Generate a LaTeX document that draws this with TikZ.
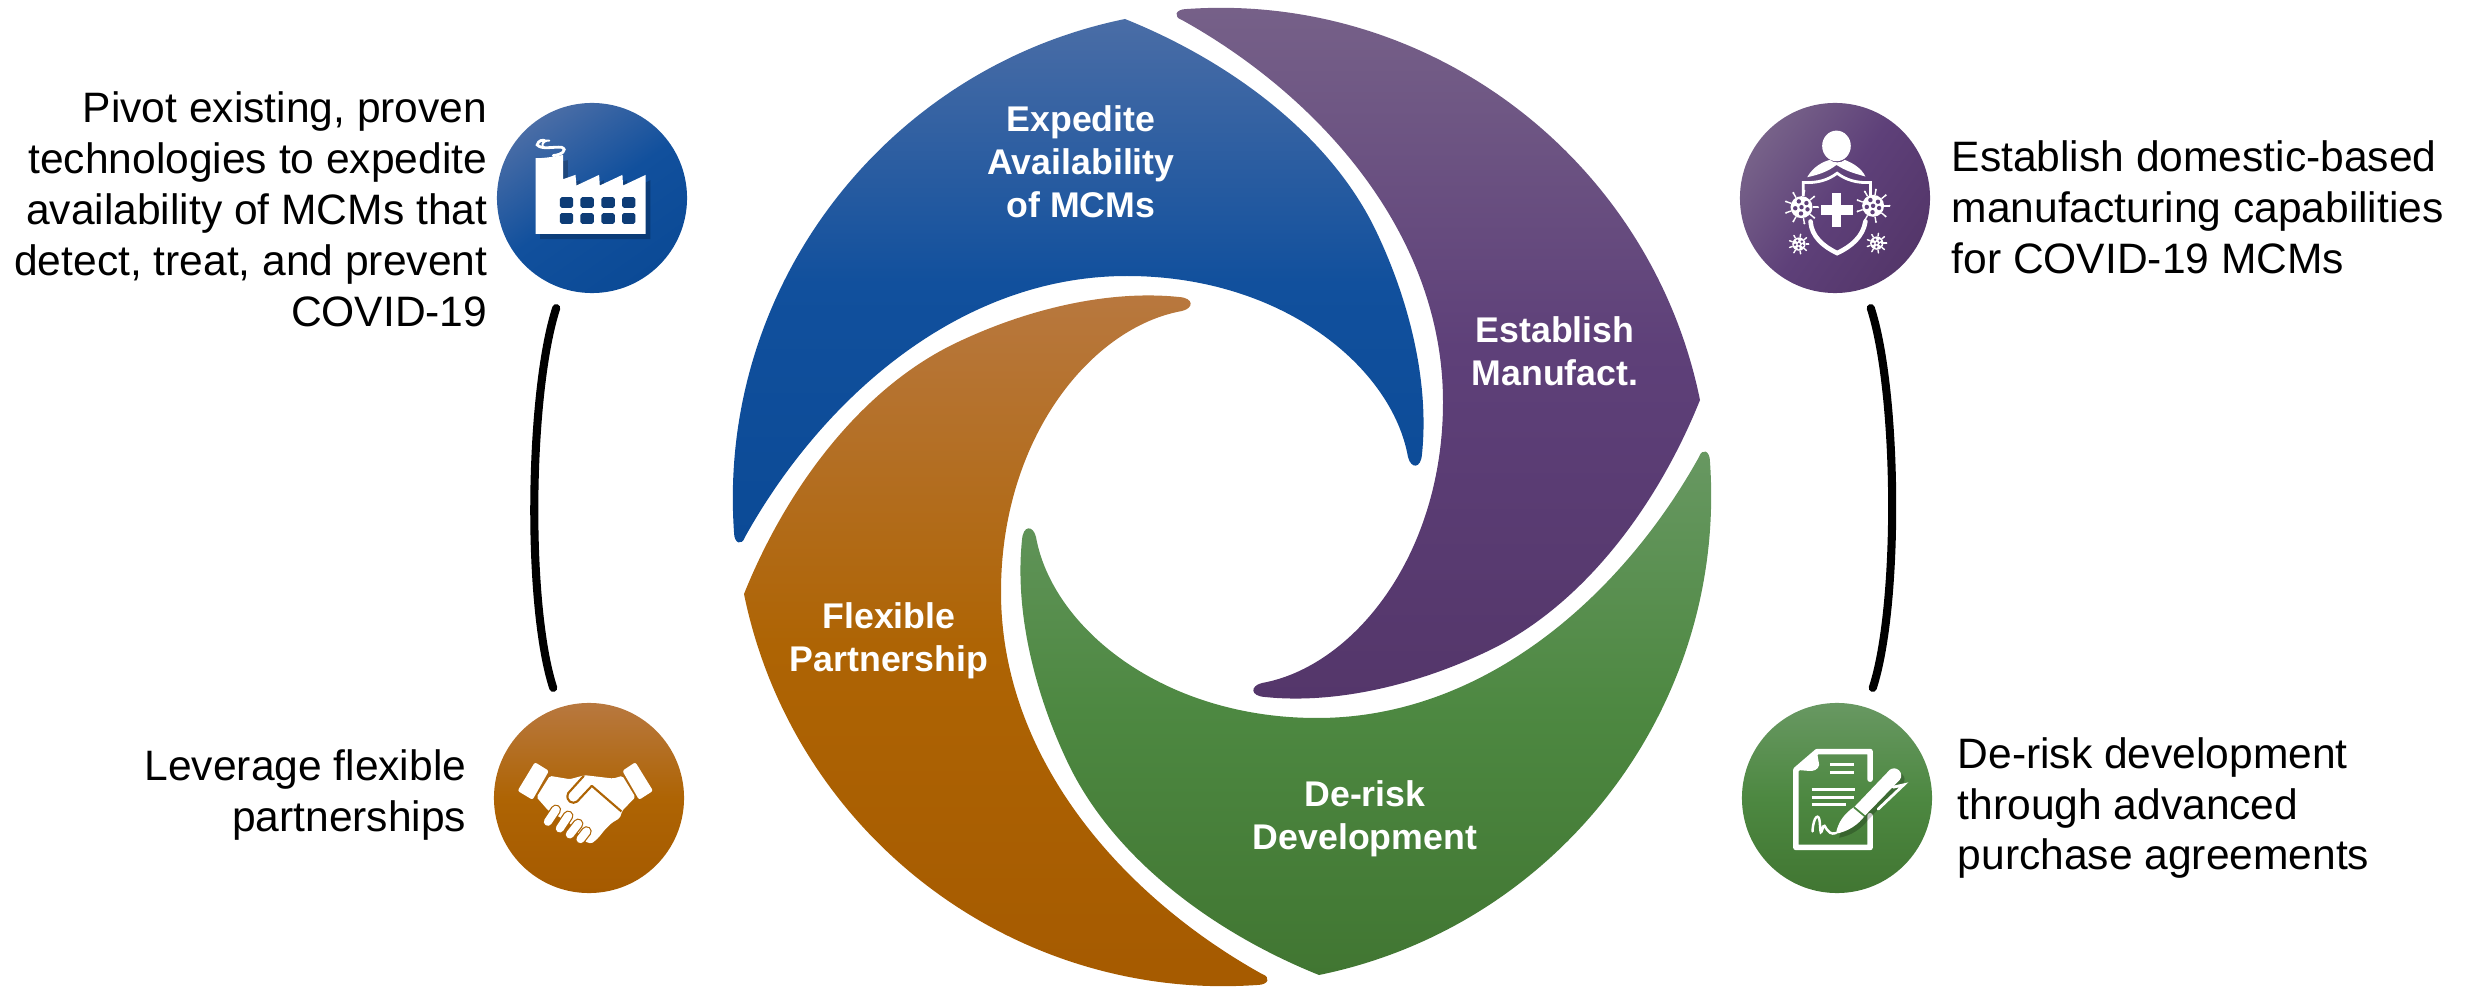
\documentclass[tikz,border=0pt]{standalone}
\usepackage{fontspec}
\setmainfont{Liberation Sans}
\definecolor{bluetop}{HTML}{4A6DA6}
\definecolor{bluemid}{HTML}{11509D}
\definecolor{bluelow}{HTML}{0B4A96}
\definecolor{purpletop}{HTML}{776289}
\definecolor{purplemid}{HTML}{5E4079}
\definecolor{purplelow}{HTML}{54366A}
\definecolor{greentop}{HTML}{689862}
\definecolor{greenmid}{HTML}{4D8841}
\definecolor{greenlow}{HTML}{417632}
\definecolor{orangetop}{HTML}{B8783F}
\definecolor{orangemid}{HTML}{AE6404}
\definecolor{orangelow}{HTML}{A55A00}
\tikzset{
  bigword/.style={text=white,align=center,font=\fontsize{10.15}{12.2}\selectfont\bfseries},
  sideword/.style={text=black,inner sep=0pt,font=\fontsize{12.1}{14.5}\selectfont},
  iconball/.style={circle,minimum size=1.9cm,inner sep=0pt},
  linkline/.style={line width=2.3pt,line cap=round,black,looseness=.66,shorten <=.2cm,shorten >=.2cm},
  zoomed/.style={x=.0033333cm,y=-.0033333cm},
  iconshadow/.style={black,opacity=.22}
}
\newcommand{\virus}[3]{
  \foreach \a in {0,40,...,320}{
    \draw[white,line width=.4pt] (#1,#2) ++(\a:#3) -- ++(\a:.5*#3);
    \fill[white] (#1,#2) ++(\a:1.5*#3) circle (.1*#3);
  }
  \fill[white] (#1,#2) circle (#3);
  \foreach \a in {20,95,170,245,320}\fill[purplemid] (#1,#2) ++(\a:.58*#3) circle (.2*#3);
  \fill[purplemid] (#1,#2) circle (.2*#3);
}
\def\factorypath{(197,432) -- (197,205) .. controls (225,205) and (255,200) .. (280,195) -- (280,268) -- (317,255) -- (320,287) -- (388,255) -- (390,287) -- (458,255) -- (460,287) -- (528,255) -- (528,432) -- cycle}
\def\penpath{(318,432) .. controls (325,395) and (345,370) .. (375,350) -- (480,240) .. controls (500,225) and (525,250) .. (510,270) -- (405,378) .. controls (385,405) and (355,425) .. (318,432) -- cycle}
\begin{document}
\begin{tikzpicture}[x=.01cm,y=-.01cm]
  \useasboundingbox (0,0) rectangle (2465,988);
  % wheel
  \foreach \turn/\colA/\colB/\colC in {0/bluetop/bluemid/bluelow,1/purpletop/purplemid/purplelow,2/greentop/greenmid/greenlow,3/orangetop/orangemid/orangelow}{
    \begin{scope}[shift={(1222,497)},rotate=-90*\turn]
      \shade[top color=\colA,bottom color=\colC,middle color=\colB]
        (-97,-478) .. controls (-337,-429) and (-505,-209) .. (-488,35)
        .. controls (-488,47) and (-480,49) .. (-477,40)
        .. controls (-402,-95) and (-265,-221) .. (-95,-221)
        .. controls (60,-221) and (170,-130) .. (186,-40)
        .. controls (189,-28) and (199,-28) .. (200,-43)
        .. controls (207,-110) and (190,-190) .. (155,-264)
        .. controls (110,-360) and (10,-435) .. (-97,-478) -- cycle;
    \end{scope}
  }
  \node[bigword] (expedite) at (1081,162) {Expedite\\Availability\\of MCMs};
  \node[bigword] (establish) at (1555,351) {Establish\\Manufact.};
  \node[bigword] (derisk) at (1365,819) {De-risk\\Development};
  \node[bigword] (flexible) at (889,641) {Flexible\\Partnership};
  % side texts
  \node[sideword,align=right,anchor=east] (pivot) at (488,209) {Pivot existing, proven\\technologies to expedite\\availability of MCMs that\\detect, treat, and prevent\\COVID-19};
  \node[sideword,align=right,anchor=east] (leverage) at (467,795) {Leverage flexible\\partnerships};
  \node[sideword,align=left,anchor=west] (domestic) at (1951,207) {Establish domestic-based\\manufacturing capabilities\\for COVID-19 MCMs};
  \node[sideword,align=left,anchor=west] (advanced) at (1957,808) {De-risk development\\through advanced\\purchase agreements};
  % balls
  \node[iconball,top color=bluetop,bottom color=bluelow,middle color=bluemid,shading angle=35] (factory) at (592,198) {};
  \node[iconball,top color=purpletop,bottom color=purplelow,middle color=purplemid,shading angle=55] (shield) at (1835,198) {};
  \node[iconball,top color=orangetop,bottom color=orangelow,middle color=orangemid] (hands) at (589,798) {};
  \node[iconball,top color=greentop,bottom color=greenlow,middle color=greenmid] (contract) at (1837,798) {};
  \draw[linkline] (factory) to[out=252,in=108] (hands);
  \draw[linkline] (shield) to[out=288,in=72] (contract);
  % factory icon
  \begin{scope}[shift={(470,90)},zoomed]
    \fill[iconshadow,shift={(14,16)}] \factorypath;
    \fill[white] \factorypath;
    \foreach \wx in {270,332,395,457}{
      \fill[bluemid!75!black,rounded corners=.5pt] (\wx,322) rectangle ++(40,32);
      \fill[bluemid!75!black,rounded corners=.5pt] (\wx,370) rectangle ++(40,32);
    }
    \draw[white,line width=.8pt,line cap=round] (250,197) .. controls (275,195) and (295,180) .. (275,172) .. controls (250,170) and (215,180) .. (202,165) .. controls (205,150) and (220,150) .. (225,152);
    \draw[white,line width=.6pt,line cap=round] (218,168) .. controls (215,158) and (228,150) .. (238,152);
  \end{scope}
  % shield icon
  \begin{scope}[shift={(1720,100)},zoomed]
    \fill[white] (350,138) ellipse (43 and 46);
    \fill[white] (262,232) .. controls (280,200) and (310,185) .. (330,180) .. controls (340,190) and (365,190) .. (375,180) .. controls (400,190) and (425,205) .. (437,230) .. controls (410,222) and (380,215) .. (350,195) .. controls (325,215) and (295,225) .. (262,232) -- cycle;
    \draw[white,line width=.8pt] (250,288) -- (250,248) .. controls (295,250) and (325,240) .. (352,220) .. controls (378,240) and (410,250) .. (452,248) -- (452,288);
    \draw[white,line width=1.3pt,line cap=round] (272,365) .. controls (275,410) and (310,440) .. (352,460) .. controls (395,440) and (430,410) .. (437,365);
    \fill[white] (338,280) rectangle (365,383);
    \fill[white] (304,316) rectangle (400,345);
    \virus{245}{322}{33}
    \virus{460}{318}{33}
    \virus{237}{433}{20}
    \virus{471}{430}{20}
  \end{scope}
  % handshake icon
  \begin{scope}[shift={(470,690)},zoomed]
    \fill[white,rounded corners=.6pt] (195,217) -- (237,243) -- (188,330) -- (143,303) -- cycle;
    \fill[white,rounded corners=.6pt] (497,217) -- (458,243) -- (508,330) -- (550,303) -- cycle;
    \fill[white,rounded corners=.5pt] (240,258) -- (300,268) -- (345,256) -- (430,266) -- (458,258) -- (497,322) -- (458,362) -- (450,385) -- (425,400) -- (405,420) -- (385,445) -- (365,462) -- (345,455) -- (300,400) -- (235,362) -- (200,322) -- cycle;
    \draw[orangemid,line width=.6pt,line join=round] (342,258) -- (295,310) .. controls (285,335) and (310,345) .. (322,335) -- (366,288) -- (455,365);
    \foreach \fx/\fy/\tx/\ty in {258/360/234/396,295/378/270/416,325/402/300/434,350/425/332/448}{
      \draw[orangemid,line width=3pt,line cap=round] (\fx,\fy) -- (\tx,\ty);
      \draw[white,line width=2.3pt,line cap=round] (\fx,\fy) -- (\tx,\ty);
    }
  \end{scope}
  % contract icon
  \begin{scope}[shift={(1730,690)},zoomed]
    \draw[white,line width=1.6pt,line join=round,line cap=round] (421,268) -- (421,185) -- (262,185) -- (198,240) -- (198,473) -- (421,473) -- (421,378);
    \fill[white] (200,240) -- (262,190) -- (268,225) .. controls (265,240) and (250,245) .. (235,243) -- cycle;
    \foreach \lx/\ly/\lz in {300/225/372,300/247/372,245/300/375,245/322/372,245/345/350}
      \draw[white,line width=.85pt] (\lx,\ly) -- (\lz,\ly);
    \draw[white,line width=.7pt,line cap=round] (248,425) .. controls (250,380) and (268,365) .. (270,400) .. controls (272,430) and (272,440) .. (280,410) .. controls (285,395) and (290,440) .. (318,430);
    \fill[iconshadow,shift={(10,12)}] \penpath;
    \fill[white] \penpath;
    \draw[greenmid,line width=.5pt] (372,352) -- (406,380);
    \draw[white,line width=.8pt,line cap=round] (490,292) -- (522,285) -- (445,358);
  \end{scope}
\end{tikzpicture}
\end{document}
